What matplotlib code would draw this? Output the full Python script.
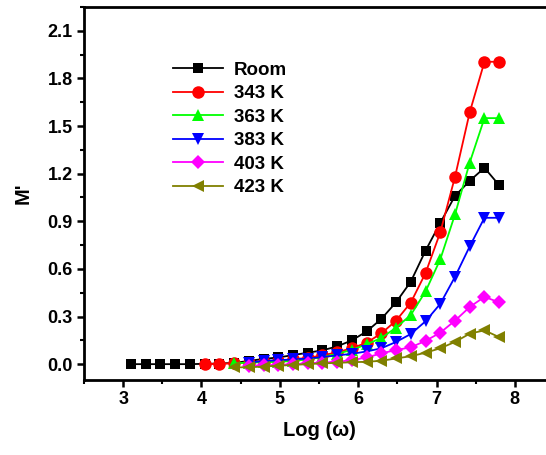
import numpy as np
import matplotlib
matplotlib.use("Agg")
import matplotlib.pyplot as plt
from matplotlib.ticker import MultipleLocator

plt.rcParams['font.family'] = ['Liberation Sans', 'DejaVu Sans']
plt.rcParams['font.weight'] = 'bold'

# log(omega) grid, 26 points
log_w = np.linspace(3.1, 7.8, 26)

room = [0.0, 0.0, 0.0, 0.0, 0.0, 0.002, 0.004, 0.008, 0.02, 0.033, 0.042, 0.057, 0.072,
        0.087, 0.112, 0.15, 0.206, 0.285, 0.39, 0.52, 0.715, 0.89, 1.06, 1.155, 1.237, 1.127]
k343 = [0.0, 0.002, 0.005, 0.01, 0.015, 0.02, 0.03, 0.04, 0.055, 0.075, 0.10, 0.135,
        0.194, 0.274, 0.388, 0.574, 0.83, 1.18, 1.587, 1.905, 1.905]
k363 = [0.005, 0.01, 0.012, 0.015, 0.02, 0.03, 0.045, 0.065, 0.09, 0.125, 0.165,
        0.23, 0.31, 0.458, 0.66, 0.943, 1.27, 1.55, 1.55]
k383 = [0.01, 0.02, 0.025, 0.03, 0.035, 0.045, 0.055, 0.065, 0.08, 0.10, 0.14, 0.19,
        0.27, 0.38, 0.55, 0.742, 0.922, 0.922]
k403 = [-0.01, -0.008, -0.005, 0.0, 0.005, 0.01, 0.015, 0.025, 0.042, 0.068, 0.089,
        0.106, 0.147, 0.198, 0.274, 0.36, 0.424, 0.389]
k423 = [-0.02, -0.02, -0.015, -0.01, -0.005, 0.0, 0.005, 0.008, 0.012, 0.015, 0.021,
        0.036, 0.05, 0.072, 0.10, 0.14, 0.192, 0.213, 0.17]

series = [
    ("Room", room, "black", "s", 7.5),
    ("343 K", k343, "#ff0000", "o", 9),
    ("363 K", k363, "#00ff00", "^", 9),
    ("383 K", k383, "#0000ff", "v", 9),
    ("403 K", k403, "#ff00ff", "D", 7.5),
    ("423 K", k423, "#808000", "<", 9),
]

fig = plt.figure(figsize=(5.46, 4.55), dpi=100)
ax = fig.add_axes([0.1538, 0.1648, 0.8609, 0.8198])

for label, vals, color, marker, ms in series:
    x = log_w[len(log_w) - len(vals):]
    ax.plot(x, vals, color=color, marker=marker, markersize=ms, linewidth=1.3,
            label=label, markeredgewidth=0)

ax.set_xlim(2.5, 8.5)
ax.set_ylim(-0.1, 2.25)
ax.xaxis.set_major_locator(MultipleLocator(1))
ax.xaxis.set_minor_locator(MultipleLocator(0.5))
ax.yaxis.set_minor_locator(MultipleLocator(0.15))
ax.set_yticks(np.arange(0, 2.11, 0.3))
ax.set_yticklabels([f"{v:.1f}" for v in np.arange(0, 2.11, 0.3)])

for s in ax.spines.values():
    s.set_linewidth(2)
ax.tick_params(which='major', direction='out', length=5, width=1.8, labelsize=13, pad=3)
ax.tick_params(which='minor', direction='out', length=3, width=1.5)
for t in ax.get_xticklabels() + ax.get_yticklabels():
    t.set_fontweight('bold')

ax.set_xlabel("Log (ω)", fontsize=14.5, fontweight='bold', labelpad=9)
ax.set_ylabel("M'", fontsize=14.5, fontweight='bold', labelpad=11)

leg = ax.legend(loc='upper left', bbox_to_anchor=(0.189, 0.853), frameon=False,
                prop={'size': 13.5, 'weight': 'bold'}, handlelength=2.7,
                handletextpad=0.55, labelspacing=0.34, borderaxespad=0, borderpad=0)

fig.savefig("out.png", dpi=100)
